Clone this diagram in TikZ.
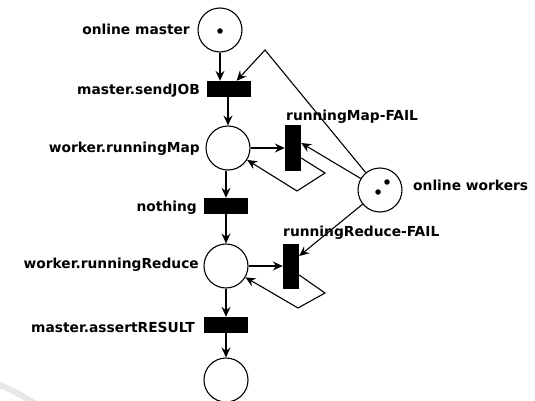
\documentclass[tikz,border=0pt]{standalone}
\usepackage{fontspec}
\newfontfamily\lblfont{DejaVu Sans}
\usetikzlibrary{arrows.meta}
\tikzset{
  place/.style={circle,draw,line width=1.1pt,minimum size=44pt,inner sep=0pt},
  hbar/.style={rectangle,fill=black,minimum width=44pt,minimum height=16pt,inner sep=0pt},
  vbar/.style={rectangle,fill=black,minimum width=16pt,minimum height=45pt,inner sep=0pt},
  token/.style={circle,fill=black,minimum size=5.5pt,inner sep=0pt},
  lbl/.style={font=\lblfont\bfseries\fontsize{13.8}{16}\selectfont,inner sep=0pt},
  arc/.style={line width=1.1pt,-{Stealth[length=10pt,width=9pt,inset=3.5pt]}},
  plain/.style={line width=1.1pt}
}
\begin{document}
\begin{tikzpicture}[x=1pt,y=-1pt]
\useasboundingbox (0,0) rectangle (535,401);
\draw[gray!18,line width=6pt,line cap=round] (-2,384) .. controls (12,390) and (22,395) .. (34,403);
% places
\node[place] (om) at (220,30) {};
\node[token] (omt) at (220,31) {};
\node[place] (rm) at (228,148) {};
\node[place] (rr) at (226,266) {};
\node[place] (ep) at (226,380) {};
\node[place] (ow) at (380,190) {};
\node[token] (owt1) at (387,182) {};
\node[token] (owt2) at (378,192) {};
% transitions
\node[hbar] (sj) at (229,89) {};
\node[hbar] (nt) at (226,206) {};
\node[hbar] (ar) at (226,325) {};
\node[vbar] (rmf) at (293,148) {};
\node[vbar] (rrf) at (291,266) {};
% labels
\node[lbl,anchor=base east] (lom) at (190,35) {online master};
\node[lbl,anchor=base east] (lsj) at (200,95) {master.sendJOB};
\node[lbl,anchor=base east] (lrm) at (200,153) {worker.runningMap};
\node[lbl,anchor=base east] (lnt) at (197,211) {nothing};
\node[lbl,anchor=base east] (lrr) at (199,268) {worker.runningReduce};
\node[lbl,anchor=base east] (lar) at (195,332) {master.assertRESULT};
\node[lbl,anchor=base west] (lrmf) at (286,121) {runningMap-FAIL};
\node[lbl,anchor=base west] (lrrf) at (283,236) {runningReduce-FAIL};
\node[lbl,anchor=base west] (low) at (413,190) {online workers};
% corners
\coordinate (c1) at (265,50);
\coordinate (c2) at (325,173);
\coordinate (c3) at (297,191);
\coordinate (c4) at (325,293);
\coordinate (c5) at (298,308);
% arcs
\draw[arc] (om) -- (om |- sj.north);
\draw[arc] (ow) -- (c1) -- (sj);
\draw[arc] (sj.south -| rm) -- (rm);
\draw[arc] (rm) -- (rmf);
\draw[arc] ([yshift=-10pt]rmf.east) -- (c2) -- (c3) -- (rm);
\draw[arc] (ow) -- ([yshift=5pt]rmf.east);
\draw[arc] (rm.south -| nt) -- (nt);
\draw[arc] (nt) -- (rr);
\draw[arc] (rr) -- (rrf);
\draw[arc] ([yshift=-9pt]rrf.east) -- (c4) -- (c5) -- (rr);
\draw[arc] (ow) -- ([yshift=10pt]rrf.east);
\draw[arc] (rr) -- (ar);
\draw[arc] (ar) -- (ep);
\end{tikzpicture}
\end{document}
